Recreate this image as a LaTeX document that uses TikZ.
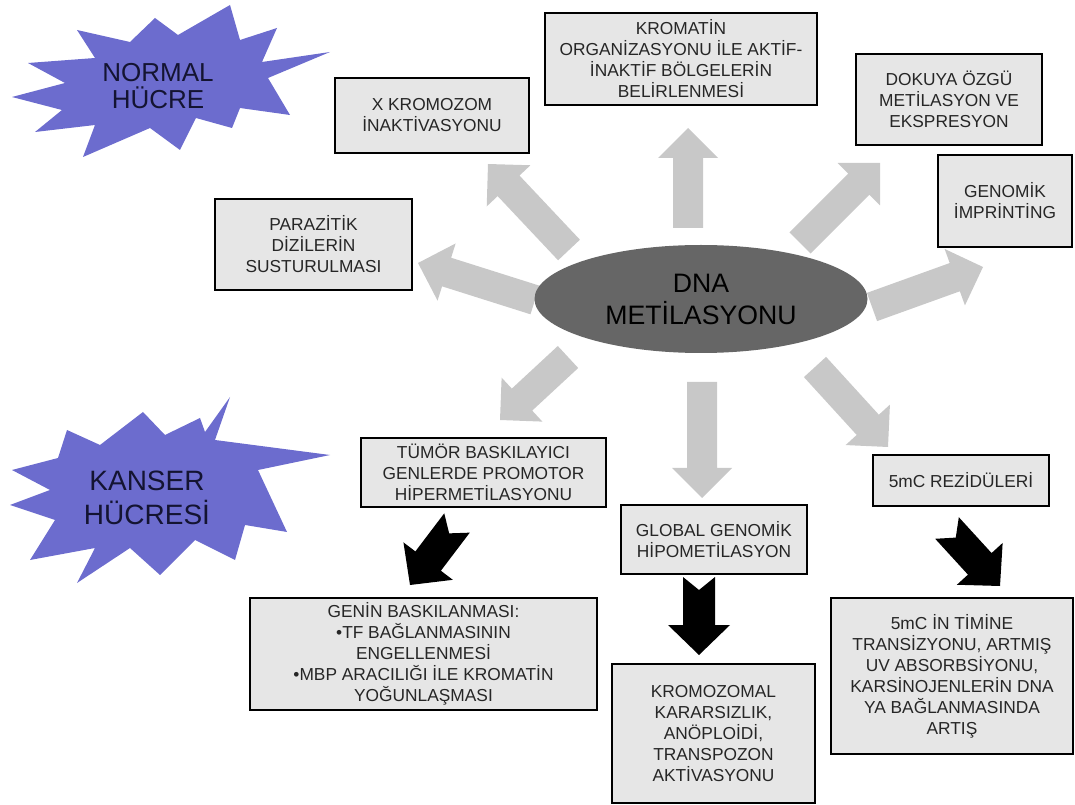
\documentclass[tikz,border=0pt]{standalone}
\usepackage{fontspec}
\setmainfont{Liberation Sans}
\usetikzlibrary{calc,shapes.geometric}

\definecolor{boxfill}{RGB}{230,230,230}
\definecolor{boxtext}{RGB}{38,38,38}
\definecolor{arrowgray}{RGB}{200,200,200}
\definecolor{corefill}{RGB}{102,102,102}
\definecolor{burstfill}{RGB}{108,108,206}
\definecolor{bursttext}{RGB}{20,20,50}

% Block arrow: #1 colour, #2 tail, #3 tip, #4 shaft half-width,
% #5 head half-width, #6 head length, #7 depth of the tail notch
\newcommand\dmblockarrow[7]{%
  \coordinate (hb) at ($(#3)!#6!(#2)$);
  \fill[#1] ($(#2)!#4!90:(#3)$) -- ($(hb)!#4!90:(#3)$) -- ($(hb)!#5!90:(#3)$)
    -- (#3) -- ($(hb)!#5!-90:(#3)$) -- ($(hb)!#4!-90:(#3)$)
    -- ($(#2)!#4!-90:(#3)$) -- ($(#2)!#7!(#3)$) -- cycle;}
\newcommand\grayarrow[2]{\dmblockarrow{arrowgray}{#1}{#2}{11.25pt}{22.5pt}{22.5pt}{0pt}}
\newcommand\blackarrow[2]{\dmblockarrow{black}{#1}{#2}{12pt}{23.25pt}{22.5pt}{9.75pt}}

\tikzset{
  sz/.style 2 args={minimum width=#1*0.75pt, minimum height=#2*0.75pt},
  infobox/.style={draw=black, line width=2pt, fill=boxfill, text=boxtext,
    align=center, inner sep=0pt,
    font=\fontsize{13}{15.75}\selectfont},
  core/.style={ellipse, fill=corefill, text=black, align=center, inner sep=0pt,
    font=\fontsize{20}{24}\selectfont},
  burst/.style={fill=burstfill},
  bursttitle/.style={text=bursttext, align=center, inner sep=0pt}
}

\begin{document}
\begin{tikzpicture}[x=0.75pt,y=-0.75pt]
\useasboundingbox (0,0) rectangle (1075,805);

% starbursts for the two cell types
\fill[burst] (230,5) -- (240,40) -- (277,28) -- (262,62) -- (330,52) -- (268,78)
  -- (290,115) -- (240,108) -- (232,128) -- (196,118) -- (180,150) -- (150,128)
  -- (83,157) -- (95,125) -- (35,132) -- (62,110) -- (12,97) -- (65,83)
  -- (28,63) -- (95,58) -- (77,30) -- (130,42) -- (155,18) -- (178,35) -- cycle;
\node[bursttitle, font=\fontsize{19.5}{20}\selectfont] (normal) at (158,86) {NORMAL\\HÜCRE};

\fill[burst] (230,397) -- (215,440) -- (330,455) -- (258,470) -- (287,532)
  -- (245,525) -- (235,560) -- (195,540) -- (160,575) -- (130,548) -- (77,583)
  -- (95,548) -- (30,560) -- (55,520) -- (10,505) -- (50,490) -- (12,470)
  -- (58,458) -- (67,430) -- (100,445) -- (143,412) -- (165,435) -- (200,418)
  -- (205,432) -- cycle;
\node[bursttitle, font=\fontsize{21}{25}\selectfont] (kanser) at (147,498) {KANSER\\HÜCRESİ};

% end points of the block arrows
\coordinate (aUpS) at (688,228);   \coordinate (aUpE) at (688,128);
\coordinate (aDnS) at (702,382);   \coordinate (aDnE) at (702,498);
\coordinate (aULS) at (569,250);   \coordinate (aULE) at (488,164);
\coordinate (aLS)  at (535,300);   \coordinate (aLE)  at (418,263);
\coordinate (aDLS) at (568,357);   \coordinate (aDLE) at (500,420);
\coordinate (aDRS) at (815,367);   \coordinate (aDRE) at (888,447);
\coordinate (aURS) at (800,243);   \coordinate (aURE) at (880,163);
\coordinate (aRS)  at (872,307);   \coordinate (aRE)  at (983,267);
\coordinate (bTS)  at (457,523);   \coordinate (bTE)  at (410,585);
\coordinate (bGS)  at (699,577);   \coordinate (bGE)  at (699,655);
\coordinate (bRS)  at (947,528);   \coordinate (bRE)  at (1000,586);

% grey arrows leaving the central ellipse
\grayarrow{aUpS}{aUpE}
\grayarrow{aDnS}{aDnE}
\grayarrow{aULS}{aULE}
\grayarrow{aLS}{aLE}
\grayarrow{aDLS}{aDLE}
\grayarrow{aDRS}{aDRE}
\grayarrow{aURS}{aURE}
\grayarrow{aRS}{aRE}

% black arrows towards the consequences in cancer cells
\blackarrow{bTS}{bTE}
\blackarrow{bGS}{bGE}
\blackarrow{bRS}{bRE}

% central node
\node[core, sz={333}{108}] (dna) at (701,299) {DNA\\METİLASYONU};

% normal cell roles
\node[infobox, sz={272}{92}] (kromatin) at (681,59)
  {KROMATİN\\ORGANİZASYONU İLE AKTİF-\\İNAKTİF BÖLGELERİN\\BELİRLENMESİ};
\node[infobox, sz={186}{91}] (dokuya) at (949,99.5)
  {DOKUYA ÖZGÜ\\METİLASYON VE\\EKSPRESYON};
\node[infobox, sz={134}{92}] (imprint) at (1005,201) {GENOMİK\\İMPRİNTİNG};
\node[infobox, sz={194}{75}] (xkrom) at (432,115.5) {X KROMOZOM\\İNAKTİVASYONU};
\node[infobox, sz={197}{91}] (parazit) at (313.5,244.5)
  {PARAZİTİK\\DİZİLERİN\\SUSTURULMASI};

% cancer cell changes
\node[infobox, sz={245}{69}] (tumor) at (483.5,472.5)
  {TÜMÖR BASKILAYICI\\GENLERDE PROMOTOR\\HİPERMETİLASYONU};
\node[infobox, sz={347}{112}] (genin) at (423.5,654)
  {GENİN BASKILANMASI:\\•TF BAĞLANMASININ\\ENGELLENMESİ\\•MBP ARACILIĞI İLE KROMATİN\\YOĞUNLAŞMASI};
\node[infobox, sz={186}{69}] (global) at (714,539.5) {GLOBAL GENOMİK\\HİPOMETİLASYON};
\node[infobox, sz={203}{139}] (kromozomal) at (713.5,733.5)
  {KROMOZOMAL\\KARARSIZLIK,\\ANÖPLOİDİ,\\TRANSPOZON\\AKTİVASYONU};
\node[infobox, sz={176}{51}] (rezidu) at (961,480.5) {5mC REZİDÜLERİ};
\node[infobox, sz={242}{156}] (timin) at (952,676)
  {5mC İN TİMİNE\\TRANSİZYONU, ARTMIŞ\\UV ABSORBSİYONU,\\KARSİNOJENLERİN DNA\\YA BAĞLANMASINDA\\ARTIŞ};
\end{tikzpicture}
\end{document}
